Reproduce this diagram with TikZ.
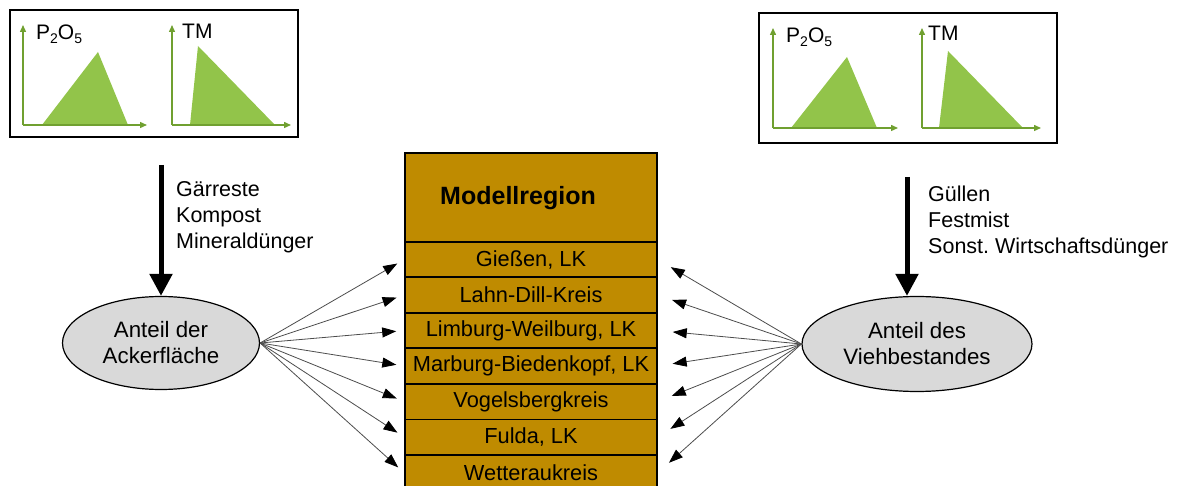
\documentclass[tikz,border=0pt]{standalone}
\usepackage{fontspec}
\setmainfont{Liberation Sans}
\usetikzlibrary{arrows.meta,shapes.geometric}
\definecolor{gold}{RGB}{191,139,0}
\definecolor{grfill}{RGB}{146,196,74}
\definecolor{graxis}{RGB}{112,160,48}
\definecolor{ellfill}{RGB}{217,217,217}
\frenchspacing
\begin{document}
\begin{tikzpicture}[x=1pt,y=-1pt,
  txt/.style={inner sep=0pt, font=\fontsize{21.5}{26}\selectfont},
  glabel/.style={inner sep=0pt, anchor=base west, font=\fontsize{21}{24}\selectfont},
  graphbox/.style={draw, line width=1.6pt, inner sep=0pt},
  axisline/.style={draw=graxis, line width=1.4pt, -{Triangle[length=7pt,width=6pt]}},
  tri/.style={fill=grfill, draw=none},
  hdrbox/.style={draw, line width=1.6pt, fill=gold, minimum width=252pt, minimum height=89pt, inner sep=0pt, anchor=north},
  rowbox/.style={draw, line width=1.6pt, fill=gold, minimum width=252pt, minimum height=35.5pt, inner sep=0pt, anchor=north, font=\fontsize{21.8}{25}\selectfont},
  ell/.style={ellipse, draw, line width=1.2pt, fill=ellfill, inner sep=0pt, align=center, font=\fontsize{22.3}{26}\selectfont},
  conn/.style={draw=black!70, line width=0.8pt, -{Triangle[length=14pt,width=10pt,color=black]}},
  bigarrow/.style={draw=black, line width=5pt, -{Triangle[length=22pt,width=22pt]}}
]
\useasboundingbox (0,0) rectangle (1192,486);
\newcommand{\subsc}[1]{\raisebox{-4pt}{\fontsize{14}{14}\selectfont #1}}

% ---------- left graph box ----------
\node[graphbox, minimum width=288pt, minimum height=127pt] (boxL) at (154,73.5) {};
\fill[tri] (42,125) -- (98,52) -- (128,125) -- cycle;
\fill[tri] (190,125) -- (198,46) -- (275,125) -- cycle;
\draw[axisline] (23,125) -- (23,25);
\draw[axisline] (23,125) -- (147,125);
\draw[axisline] (172,125) -- (172,25);
\draw[axisline] (172,125) -- (291,125);
\node[glabel] (pL) at (36,40) {P\subsc{2}O\subsc{5}};
\node[glabel] (tmL) at (182,39) {TM};

% ---------- right graph box ----------
\node[graphbox, minimum width=298pt, minimum height=130pt] (boxR) at (908,78) {};
\fill[tri] (791,128) -- (847,57) -- (877,128) -- cycle;
\fill[tri] (939,128) -- (948,51) -- (1023,128) -- cycle;
\draw[axisline] (773,128) -- (773,28);
\draw[axisline] (773,128) -- (898,128);
\draw[axisline] (922,128) -- (922,28);
\draw[axisline] (922,128) -- (1041,128);
\node[glabel] (pR) at (786,43) {P\subsc{2}O\subsc{5}};
\node[glabel] (tmR) at (928,41) {TM};

% ---------- central column ----------
\node[hdrbox] (hdr) at (531,152) {};
\node[inner sep=0pt, font=\bfseries\fontsize{25}{30}\selectfont] (hdrtext) at (518,198) {Modellregion};
\node[rowbox] (r1) at (531,241) {Gießen, LK};
\node[rowbox] (r2) at (531,276.5) {Lahn-Dill-Kreis};
\node[rowbox] (r3) at (531,312) {Limburg-Weilburg, LK};
\node[rowbox] (r4) at (531,347.5) {Marburg-Biedenkopf, LK};
\node[rowbox] (r5) at (531,383) {Vogelsbergkreis};
\node[rowbox] (r6) at (531,418.5) {Fulda, LK};
\node[rowbox, minimum height=36pt] (r7) at (531,454) {Wetteraukreis};

% ---------- ellipses ----------
\node[ell, minimum width=197pt, minimum height=93pt] (ellL) at (161,343) {Anteil der\\Ackerfläche};
\node[ell, minimum width=230pt, minimum height=95pt] (ellR) at (917,344) {Anteil des\\Viehbestandes};

% ---------- input arrows and labels ----------
\coordinate (srcL) at (161,165);
\coordinate (srcR) at (907,177);
\draw[bigarrow] (srcL) -- (ellL.north);
\draw[bigarrow] (srcR) -- (srcR |- ellR.north);
\node[txt, anchor=north west, align=left] (labL) at (176,181) {Gärreste\\Kompost\\Mineraldünger};
\node[txt, anchor=north west, align=left] (labR) at (928,186) {Güllen\\Festmist\\Sonst. Wirtschaftsdünger};

% ---------- connectors ----------
\foreach \r in {r1,r2,r3,r4,r5,r6,r7} {
  \draw[conn, shorten >=8pt] (ellL.east) -- (\r.west);
  \draw[conn, shorten >=15pt] (ellR.west) -- (\r.east);
}
\end{tikzpicture}
\end{document}
